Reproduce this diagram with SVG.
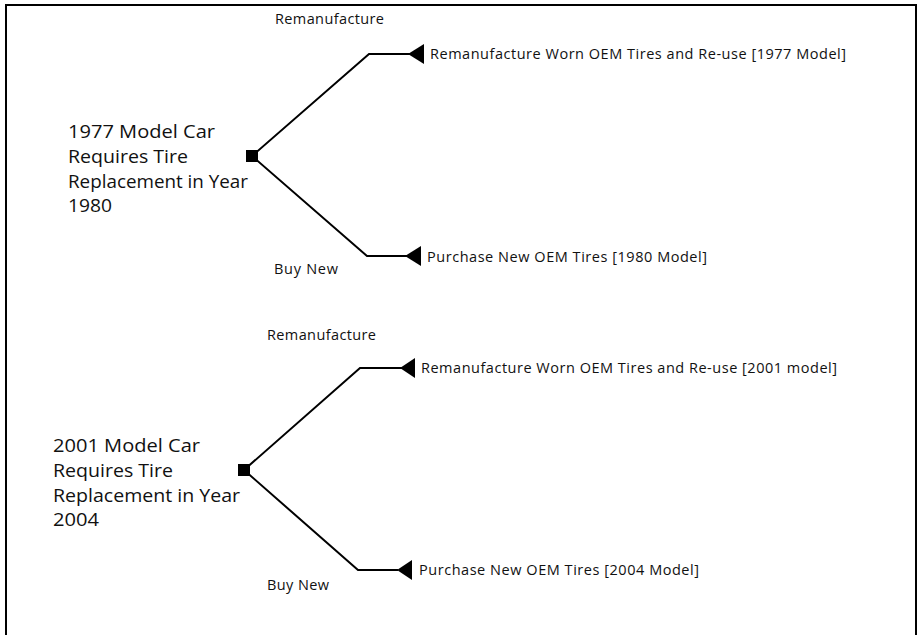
<svg xmlns="http://www.w3.org/2000/svg" width="922" height="635" viewBox="0 0 922 635">
<style>
.conn{fill:none;stroke:#000;stroke-width:2}
.term{fill:#000}
.lbl{font-family:"Open Sans","Liberation Sans",sans-serif;font-size:14.5px;fill:#111}
.big{font-family:"Open Sans","Liberation Sans",sans-serif;font-size:19px;fill:#111}
</style>
<rect x="0" y="0" width="922" height="635" fill="#fff"/>
<rect x="6" y="5" width="910" height="645" fill="none" stroke="#000" stroke-width="2"/>
<g id="connectors">
<path class="conn" d="M252,156 L369,54 L410,54"/>
<path class="conn" d="M252,156 L367,256 L407,256"/>
<path class="conn" d="M244,470 L360,368 L402,368"/>
<path class="conn" d="M244,470 L358,570 L398,570"/>
</g>
<g id="decision1">
<rect x="246" y="150" width="12" height="12" class="term"/>
<text class="big" x="68" y="138" textLength="147" lengthAdjust="spacingAndGlyphs">1977 Model Car</text>
<text class="big" x="68" y="163" textLength="120" lengthAdjust="spacingAndGlyphs">Requires Tire</text>
<text class="big" x="68" y="188" textLength="180" lengthAdjust="spacingAndGlyphs">Replacement in Year</text>
<text class="big" x="68" y="212" textLength="44" lengthAdjust="spacingAndGlyphs">1980</text>
</g>
<g id="label-reman1"><text class="lbl" x="275" y="24" textLength="109">Remanufacture</text></g>
<g id="label-buy1"><text class="lbl" x="274" y="274" textLength="64">Buy New</text></g>
<g id="outcome1a">
<polygon class="term" points="408,54 424,44 424,64"/>
<text class="lbl" x="430" y="59" textLength="416">Remanufacture Worn OEM Tires and Re-use [1977 Model]</text>
</g>
<g id="outcome1b">
<polygon class="term" points="405,256 421,246 421,266"/>
<text class="lbl" x="427" y="262" textLength="280">Purchase New OEM Tires [1980 Model]</text>
</g>
<g id="decision2">
<rect x="238" y="464" width="12" height="12" class="term"/>
<text class="big" x="53" y="452" textLength="147" lengthAdjust="spacingAndGlyphs">2001 Model Car</text>
<text class="big" x="53" y="477" textLength="120" lengthAdjust="spacingAndGlyphs">Requires Tire</text>
<text class="big" x="53" y="502" textLength="187" lengthAdjust="spacingAndGlyphs">Replacement in Year</text>
<text class="big" x="53" y="526" textLength="46" lengthAdjust="spacingAndGlyphs">2004</text>
</g>
<g id="label-reman2"><text class="lbl" x="267" y="340" textLength="109">Remanufacture</text></g>
<g id="label-buy2"><text class="lbl" x="267" y="590" textLength="62">Buy New</text></g>
<g id="outcome2a">
<polygon class="term" points="400,368 415,358 415,378"/>
<text class="lbl" x="421" y="373" textLength="416">Remanufacture Worn OEM Tires and Re-use [2001 model]</text>
</g>
<g id="outcome2b">
<polygon class="term" points="397,570 412,560 412,580"/>
<text class="lbl" x="419" y="575" textLength="280">Purchase New OEM Tires [2004 Model]</text>
</g>
</svg>
